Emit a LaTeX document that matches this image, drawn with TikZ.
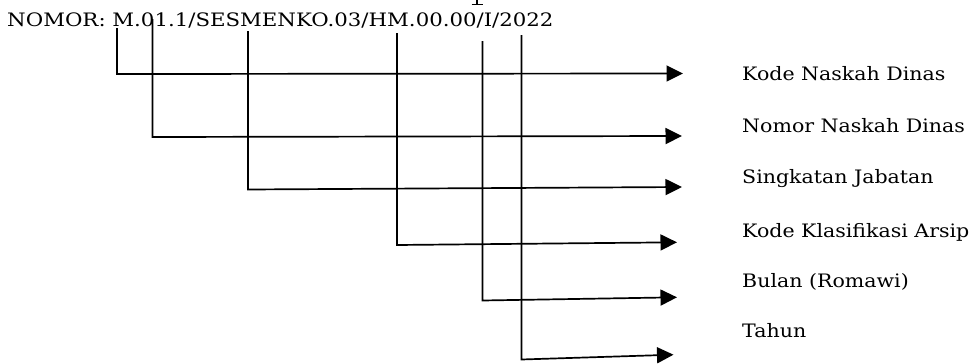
\documentclass[tikz,border=0pt]{standalone}
\usepackage{fontspec}
\setmainfont{DejaVu Serif}
\newfontfamily\headfont{DejaVu Serif}[FakeStretch=1.15]
\newfontfamily\labfont{DejaVu Serif}[FakeStretch=1.11]
\usetikzlibrary{arrows.meta}
\begin{document}
\begin{tikzpicture}[x=1pt,y=-1pt,
  conn/.style={line width=1.7pt, line join=miter, -{Triangle[length=16.5pt,width=16pt]}},
  lbl/.style={anchor=base west, inner sep=0pt, font=\labfont\fontsize{18.5}{22}\selectfont},
  head/.style={anchor=base west, inner sep=0pt, font=\headfont\fontsize{18.5}{22}\selectfont}]
\useasboundingbox (0,0) rectangle (975,364);
% clipped fragment of the line above
\draw[line width=1.8pt] (477,0) -- (477,4.5);
\draw[line width=1.2pt] (471.5,4.6) -- (482.5,4.6);
% number
\node[head] (nomor) at (7,27) {NOMOR: M.01.1/SESMENKO.03/HM.00.00/I/2022};
% labels
\node[lbl] (l1) at (742,80) {Kode Naskah Dinas};
\node[lbl] (l2) at (742,132) {Nomor Naskah Dinas};
\node[lbl] (l3) at (742,183) {Singkatan Jabatan};
\node[lbl] (l4) at (742,237) {Kode Klasifikasi Arsip};
\node[lbl] (l5) at (742,287) {Bulan (Romawi)};
\node[lbl] (l6) at (742,337) {Tahun};
% line tops, corners and tips
\coordinate (t1) at (117,28);   \coordinate (c1) at (117,74);    \coordinate (e1) at (683,73.5);
\coordinate (t2) at (152.5,19); \coordinate (c2) at (152.5,137); \coordinate (e2) at (682,136);
\coordinate (t3) at (248,31);   \coordinate (c3) at (248,189.5); \coordinate (e3) at (682,187);
\coordinate (t4) at (397,33);   \coordinate (c4) at (397,245);   \coordinate (e4) at (677,242.3);
\coordinate (t5) at (482.5,41); \coordinate (c5) at (482.5,300.5); \coordinate (e5) at (677,297.3);
\coordinate (t6) at (521.5,35); \coordinate (c6) at (521.5,359.5); \coordinate (e6) at (673.5,354.7);
\foreach \i in {1,...,6}{
  \draw[conn] (t\i) -- (c\i) -- (e\i);
}
\end{tikzpicture}
\end{document}
